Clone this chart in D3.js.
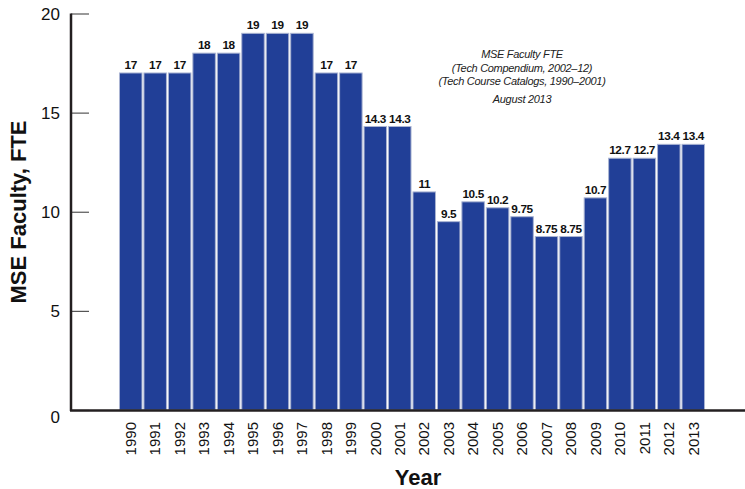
<!DOCTYPE html>
<html>
<head>
<meta charset="utf-8">
<script src="https://cdn.jsdelivr.net/npm/d3@7"></script>
<style>
  body { margin: 0; background: #fff; }
  svg { display: block; font-family: "Liberation Sans", Arial, Helvetica, sans-serif; }
</style>
</head>
<body>
<svg id="svg" width="745" height="489"></svg>
<script>
/* globals d3 */

var years = ['1990','1991','1992','1993','1994','1995','1996','1997','1998','1999','2000','2001',
             '2002','2003','2004','2005','2006','2007','2008','2009','2010','2011','2012','2013'];
var fte = [17, 17, 17, 18, 18, 19, 19, 19, 17, 17, 14.3, 14.3,
           11, 9.5, 10.5, 10.2, 9.75, 8.75, 8.75, 10.7, 12.7, 12.7, 13.4, 13.4];
var yTicks = [0, 5, 10, 15, 20];
var noteLines = ['MSE Faculty FTE', '(Tech Compendium, 2002\u201312)', '(Tech Course Catalogs, 1990\u20132001)'];
var noteDate = 'August 2013';

var svg = d3.select('svg');

var x = d3.scaleBand()
  .domain(years)
  .range([119, 705])
  .paddingInner(0.08)
  .paddingOuter(0.02);

var y = d3.scaleLinear()
  .domain([0, 20])
  .range([410, 13.5]);

// bars
svg.selectAll('rect.bar').data(fte).enter().append('rect')
  .attr('class', 'bar')
  .attr('x', function(d, i) { return x(years[i]); })
  .attr('y', function(d) { return y(d); })
  .attr('width', x.bandwidth())
  .attr('height', function(d) { return y(0) - y(d); })
  .attr('fill', '#213f97')
  .attr('stroke', '#aab4d2')
  .attr('stroke-width', 1);

// value labels
svg.selectAll('text.val').data(fte).enter().append('text')
  .attr('class', 'val')
  .attr('x', function(d, i) { return x(years[i]) + x.bandwidth() / 2; })
  .attr('y', function(d) { return y(d) - 4; })
  .attr('text-anchor', 'middle')
  .attr('font-size', 11.8)
  .attr('font-weight', 'bold')
  .attr('letter-spacing', -0.4)
  .attr('fill', '#111')
  .text(function(d) { return d; });

// y axis
var yAxis = d3.axisRight(y).tickValues(yTicks).tickSize(18).tickFormat('');
var gy = svg.append('g').attr('transform', 'translate(71,0)').call(yAxis);
gy.select('.domain').remove();
gy.selectAll('.tick line').attr('stroke', '#555').attr('stroke-width', 1.2);

svg.append('line')
  .attr('x1', 71).attr('x2', 71)
  .attr('y1', y(20)).attr('y2', y(0) + 1)
  .attr('stroke', '#231f20').attr('stroke-width', 2.5);

svg.selectAll('text.ytick').data(yTicks).enter().append('text')
  .attr('class', 'ytick')
  .attr('x', 60)
  .attr('y', function(d) { return d === 0 ? y(d) + 13 : y(d) + 6; })
  .attr('text-anchor', 'end')
  .attr('font-size', 17)
  .attr('fill', '#111')
  .text(function(d) { return d; });

// x axis
svg.append('line')
  .attr('x1', 70).attr('x2', 745)
  .attr('y1', y(0) + 0.5).attr('y2', y(0) + 0.5)
  .attr('stroke', '#231f20').attr('stroke-width', 2.5);

var xAxis = d3.axisBottom(x).tickSize(0).tickPadding(0);
var gx = svg.append('g').attr('transform', 'translate(0,' + y(0) + ')').call(xAxis);
gx.select('.domain').remove();
gx.selectAll('.tick text')
  .attr('transform', 'rotate(-90)')
  .attr('x', -12)
  .attr('y', 0)
  .attr('dy', '0.35em')
  .attr('text-anchor', 'end')
  .attr('font-size', 15)
  .attr('font-family', '"Liberation Sans", Arial, sans-serif')
  .attr('fill', '#111');

// axis titles
svg.append('text')
  .attr('x', 418).attr('y', 485)
  .attr('text-anchor', 'middle')
  .attr('font-size', 22)
  .attr('font-weight', 'bold')
  .attr('fill', '#111')
  .text('Year');

svg.append('text')
  .attr('transform', 'translate(26,212) rotate(-90)')
  .attr('text-anchor', 'middle')
  .attr('font-size', 22)
  .attr('font-weight', 'bold')
  .attr('fill', '#111')
  .text('MSE Faculty, FTE');

// note
var note = svg.append('g').attr('font-style', 'italic').attr('font-size', 11)
  .attr('letter-spacing', -0.3).attr('fill', '#222');
note.selectAll('text').data(noteLines).enter().append('text')
  .attr('x', 522)
  .attr('y', function(d, i) { return 58 + i * 13.5; })
  .attr('text-anchor', 'middle')
  .text(function(d) { return d; });
note.append('text')
  .attr('x', 522).attr('y', 103)
  .attr('text-anchor', 'middle')
  .text(noteDate);
</script>
</body>
</html>
